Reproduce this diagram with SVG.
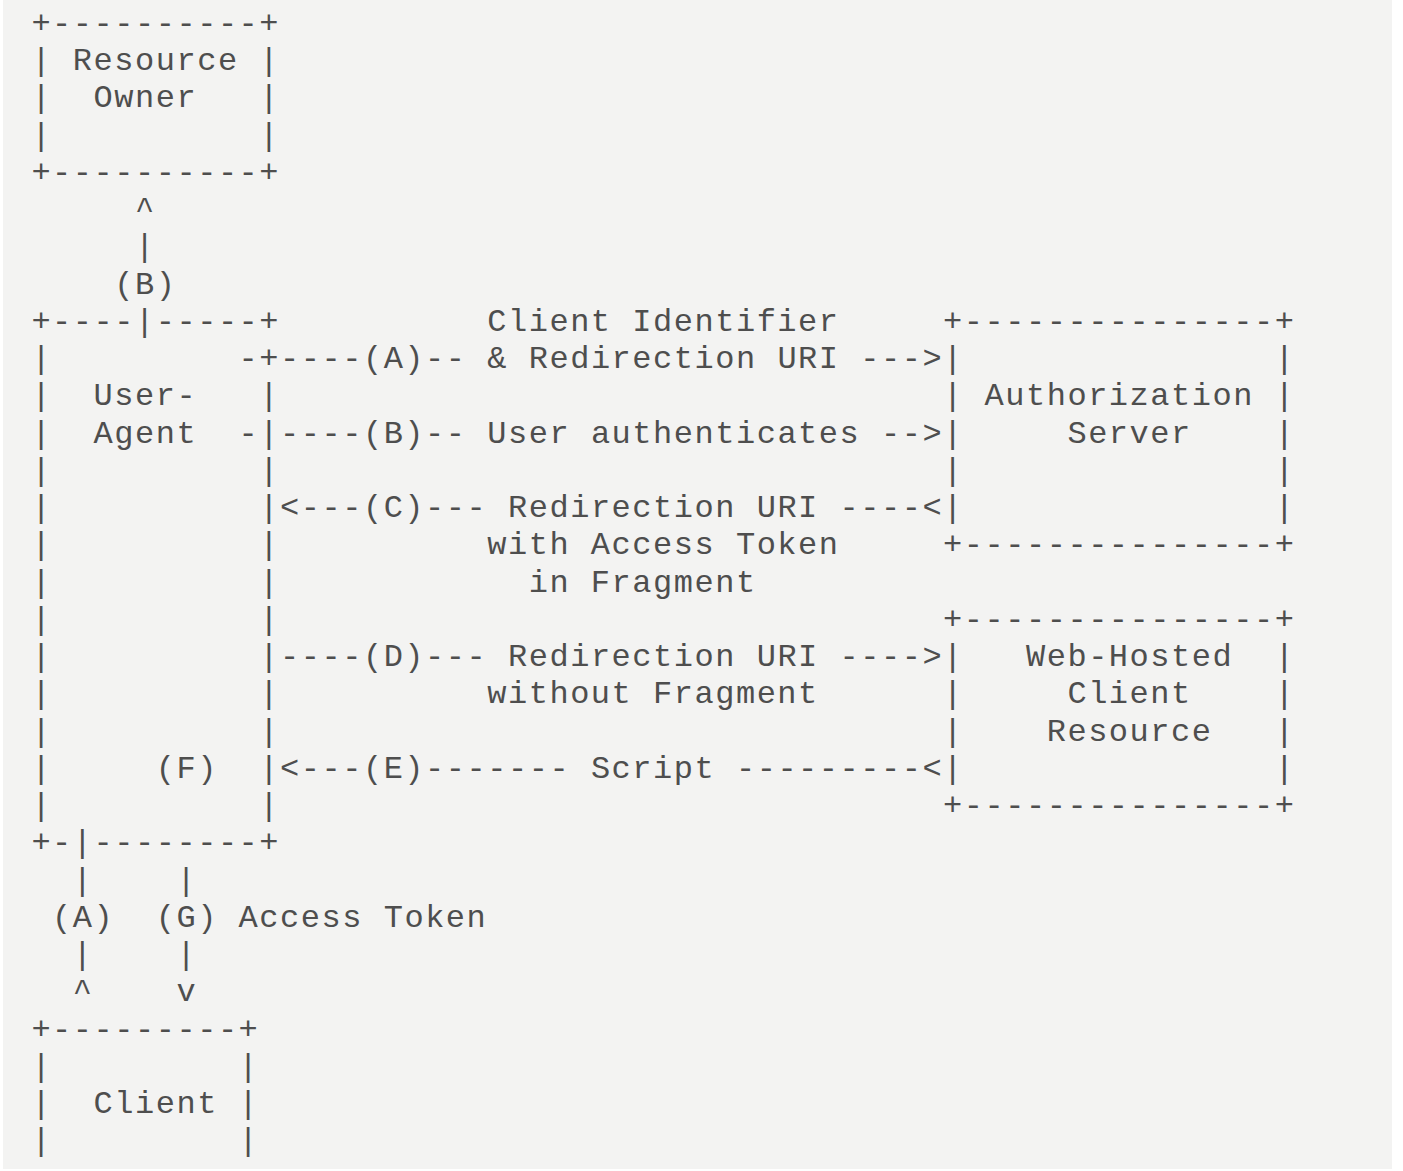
<svg xmlns="http://www.w3.org/2000/svg" width="1403" height="1171" viewBox="0 0 1403 1171">
<style>
text { font-family: "Liberation Mono", "DejaVu Sans Mono", monospace; font-size: 32px; letter-spacing: 1.52px; fill: #4e4e4e; white-space: pre; }
</style>
<rect x="0" y="0" width="1403" height="1171" fill="#ffffff"/>
<rect x="3" y="0" width="1389" height="1169" fill="#f3f3f2"/>
<g id="resource-owner" xml:space="preserve">
<text x="31.4" y="32.75">+----------+</text>
<text x="31.4" y="70">| Resource |</text>
<text x="31.4" y="107.25">|  Owner   |</text>
<text x="31.4" y="144.5">|          |</text>
<text x="31.4" y="181.75">+----------+</text>
</g>
<g id="user-agent" xml:space="preserve">
<text x="31.4" y="330.75">+----|-----+</text>
<text x="31.4" y="368">|</text>
<text x="259.32" y="368">+</text>
<text x="31.4" y="405.25">|  User-   |</text>
<text x="31.4" y="442.5">|  Agent</text>
<text x="259.32" y="442.5">|</text>
<text x="31.4" y="479.75">|          |</text>
<text x="31.4" y="517">|          |</text>
<text x="31.4" y="554.25">|          |</text>
<text x="31.4" y="591.5">|          |</text>
<text x="31.4" y="628.75">|          |</text>
<text x="31.4" y="666">|          |</text>
<text x="31.4" y="703.25">|          |</text>
<text x="31.4" y="740.5">|          |</text>
<text x="31.4" y="777.75">|     (F)  |</text>
<text x="31.4" y="815">|          |</text>
<text x="31.4" y="852.25">+-|--------+</text>
</g>
<g id="authorization-server" xml:space="preserve">
<text x="943.08" y="330.75">+---------------+</text>
<text x="943.08" y="368">|               |</text>
<text x="943.08" y="405.25">| Authorization |</text>
<text x="943.08" y="442.5">|     Server    |</text>
<text x="943.08" y="479.75">|               |</text>
<text x="943.08" y="517">|               |</text>
<text x="943.08" y="554.25">+---------------+</text>
</g>
<g id="web-hosted-client-resource" xml:space="preserve">
<text x="943.08" y="628.75">+---------------+</text>
<text x="943.08" y="666">|   Web-Hosted  |</text>
<text x="943.08" y="703.25">|     Client    |</text>
<text x="943.08" y="740.5">|    Resource   |</text>
<text x="943.08" y="777.75">|               |</text>
<text x="943.08" y="815">+---------------+</text>
</g>
<g id="client" xml:space="preserve">
<text x="31.4" y="1038.5">+---------+</text>
<text x="31.4" y="1075.75">|         |</text>
<text x="31.4" y="1113">|  Client |</text>
<text x="31.4" y="1150.25">|         |</text>
<text x="31.4" y="1187.5">+---------+</text>
</g>
<g id="connectors" xml:space="preserve">
<text x="135" y="219">^</text>
<text x="135" y="256.25">|</text>
<text x="114.28" y="293.5">(B)</text>
<text x="487.24" y="330.75">Client Identifier</text>
<text x="238.6" y="368">-</text>
<text x="280.04" y="368">----(A)-- &amp; Redirection URI ---&gt;</text>
<text x="238.6" y="442.5">-</text>
<text x="280.04" y="442.5">----(B)-- User authenticates --&gt;</text>
<text x="280.04" y="517">&lt;---(C)--- Redirection URI ----&lt;</text>
<text x="487.24" y="554.25">with Access Token</text>
<text x="528.68" y="591.5">in Fragment</text>
<text x="280.04" y="666">----(D)--- Redirection URI ----&gt;</text>
<text x="487.24" y="703.25">without Fragment</text>
<text x="280.04" y="777.75">&lt;---(E)------- Script ---------&lt;</text>
<text x="72.84" y="889.5">|    |</text>
<text x="52.12" y="926.75">(A)  (G) Access Token</text>
<text x="72.84" y="964">|    |</text>
<text x="72.84" y="1001.25">^    v</text>
</g>
<rect x="0" y="1169" width="1403" height="2" fill="#ffffff"/>
</svg>
